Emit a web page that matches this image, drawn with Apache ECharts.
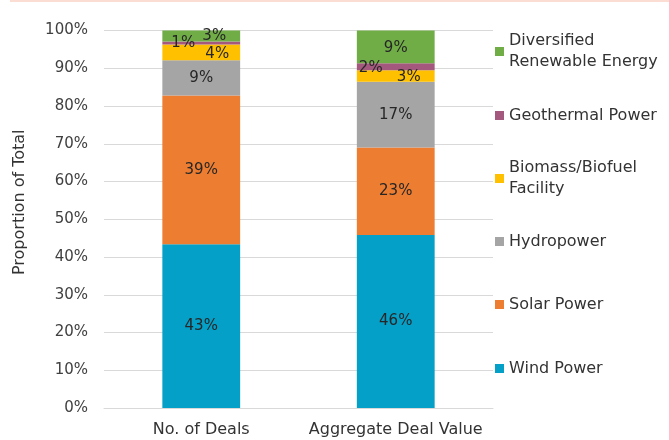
<!DOCTYPE html>
<html>
<head>
<meta charset="utf-8">
<script src="https://cdn.jsdelivr.net/npm/echarts@6/dist/echarts.min.js"></script>
<style>
  html, body { margin: 0; padding: 0; background: #fff; }
  #chart { width: 669px; height: 440px; }
</style>
</head>
<body>
<div id="chart"></div>
<script>
// categories along the x axis
const categories = ['No. of Deals', 'Aggregate Deal Value'];

// share of total (%) per category, bottom of the stack first
const windPower = [43.4, 45.8];
const solarPower = [39.4, 23.2];
const hydropower = [9.3, 17.4];
const biomass = [4.2, 3.1];
const geothermal = [0.8, 1.8];
const diversified = [2.9, 8.7];

const yTicks = [0, 10, 20, 30, 40, 50, 60, 70, 80, 90, 100];

const font = 'DejaVu Sans';

// stack order bottom -> top
const seriesList = [
  { name: 'Wind Power', data: windPower, color: '#05A0C8' },
  { name: 'Solar Power', data: solarPower, color: '#ED7D31' },
  { name: 'Hydropower', data: hydropower, color: '#A5A5A5' },
  { name: 'Biomass/Biofuel Facility', data: biomass, color: '#FFC000' },
  { name: 'Geothermal Power', data: geothermal, color: '#A5587E' },
  { name: 'Diversified Renewable Energy', data: diversified, color: '#70AD47' }
];

// labels on thin segments are nudged sideways so they don't collide
const labelOffsets = {
  'Biomass/Biofuel Facility': [[16, 2], [13, 1]],
  'Geothermal Power': [[-18, 0], [-25, 1]],
  'Diversified Renewable Energy': [[13, 0], [0, 1]]
};

// legend: top to bottom, with hand-placed vertical positions
const legendNames = {
  'Diversified Renewable Energy': 'Diversified\nRenewable Energy',
  'Biomass/Biofuel Facility': 'Biomass/Biofuel\nFacility'
};
const legendTops = {
  'Diversified Renewable Energy': 20,
  'Geothermal Power': 105,
  'Biomass/Biofuel Facility': 147,
  'Hydropower': 231,
  'Solar Power': 294,
  'Wind Power': 358
};

const chart = echarts.init(document.getElementById('chart'));

const legends = Object.keys(legendTops).map(function (name) {
  const twoLines = !!legendNames[name];
  return {
    data: [name],
    left: 495,
    top: legendTops[name],
    padding: 0,
    itemWidth: 9,
    itemHeight: 9,
    itemGap: 0,
    icon: 'rect',
    selectedMode: false,
    formatter: function (n) { return legendNames[n] || n; },
    textStyle: {
      fontFamily: font,
      fontSize: 16,
      color: '#333',
      lineHeight: 21,
      padding: twoLines ? [21, 0, 0, 0] : 0
    }
  };
});

const option = {
  animation: false,
  textStyle: { fontFamily: font },
  graphic: [
    {
      type: 'rect',
      shape: { x: 10, y: 0, width: 659, height: 2 },
      style: { fill: '#FCDDD3' },
      silent: true
    }
  ],
  legend: legends,
  grid: {
    left: 104,
    right: 176,
    top: 30.5,
    bottom: 32
  },
  xAxis: {
    type: 'category',
    data: categories,
    axisTick: { show: false },
    axisLine: { lineStyle: { color: '#D9D9D9', width: 1 } },
    axisLabel: {
      interval: 0,
      hideOverlap: false,
      margin: 14,
      fontSize: 16,
      color: '#333',
      fontFamily: font
    }
  },
  yAxis: {
    type: 'value',
    min: yTicks[0],
    max: yTicks[yTicks.length - 1],
    interval: 10,
    name: 'Proportion of Total',
    nameLocation: 'middle',
    nameGap: 76,
    nameTextStyle: {
      fontFamily: font,
      fontSize: 16,
      color: '#333',
      padding: [0, 0, 0, 34]
    },
    axisLine: { show: false },
    axisTick: { show: false },
    splitLine: { lineStyle: { color: '#D9D9D9', width: 1 } },
    axisLabel: {
      margin: 16,
      fontSize: 15,
      color: '#404040',
      fontFamily: font,
      formatter: '{value}%'
    }
  },
  series: seriesList.map(function (s) {
    const offsets = labelOffsets[s.name];
    return {
      name: s.name,
      type: 'bar',
      stack: 'total',
      barWidth: '40%',
      itemStyle: { color: s.color },
      label: {
        show: true,
        position: 'inside',
        fontSize: 15,
        fontFamily: font,
        color: '#262626',
        formatter: function (p) { return Math.round(p.value) + '%'; }
      },
      data: s.data.map(function (v, i) {
        if (!offsets) return v;
        return { value: v, label: { offset: offsets[i] } };
      })
    };
  })
};

chart.setOption(option);
</script>
</body>
</html>
